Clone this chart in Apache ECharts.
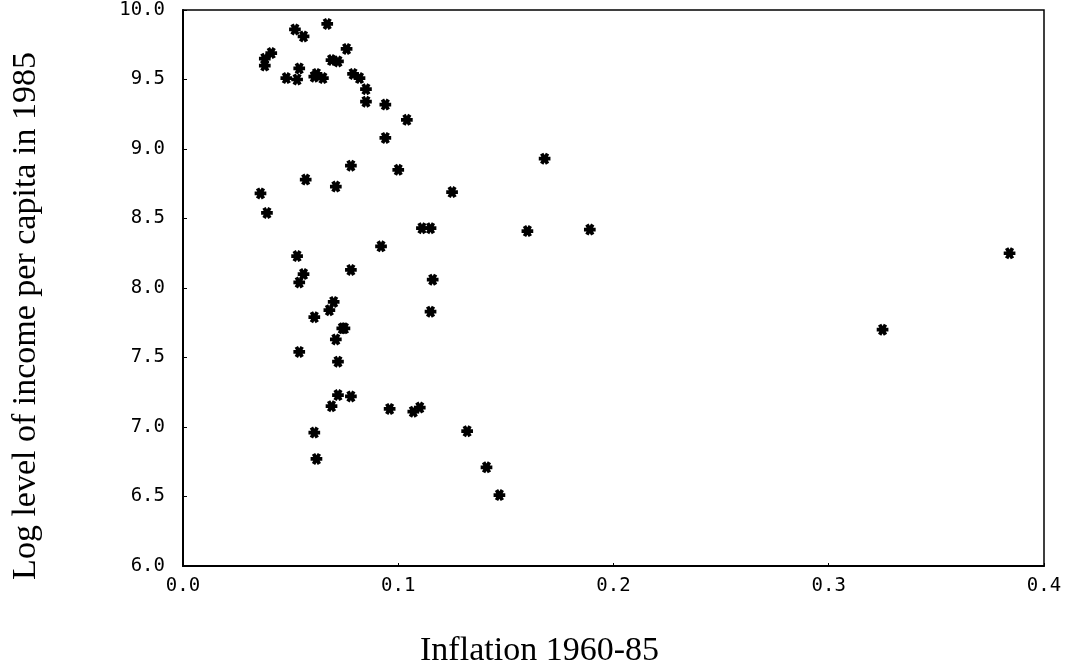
<!DOCTYPE html>
<html>
<head>
<meta charset="utf-8">
<script src="https://cdn.jsdelivr.net/npm/echarts@6/dist/echarts.min.js"></script>
<style>
  html, body { margin: 0; padding: 0; background: #fff; }
  #chart { width: 1071px; height: 669px; }
</style>
</head>
<body>
<div id="chart"></div>
<script>
// inflation 1960-85 (x) and log income per capita 1985 (y)
const inflation = [
  0.052, 0.056, 0.067, 0.041, 0.038, 0.038, 0.076, 0.069, 0.072, 0.054,
  0.048, 0.053, 0.062, 0.061, 0.065, 0.079, 0.082, 0.085, 0.085, 0.094,
  0.104, 0.094, 0.078, 0.100, 0.057, 0.071, 0.036, 0.125, 0.039, 0.111,
  0.115, 0.092, 0.053, 0.056, 0.078, 0.054, 0.116, 0.070, 0.068, 0.061,
  0.115, 0.074, 0.075, 0.071, 0.054, 0.072, 0.072, 0.078, 0.069, 0.096,
  0.107, 0.110, 0.132, 0.061, 0.062, 0.141, 0.147, 0.168, 0.160, 0.189,
  0.384, 0.325
]
const logIncome = [
  9.86, 9.81, 9.90, 9.69, 9.65, 9.60, 9.72, 9.64, 9.63, 9.58,
  9.51, 9.50, 9.54, 9.52, 9.51, 9.54, 9.51, 9.43, 9.34, 9.32,
  9.21, 9.08, 8.88, 8.85, 8.78, 8.73, 8.68, 8.69, 8.54, 8.43,
  8.43, 8.30, 8.23, 8.10, 8.13, 8.04, 8.06, 7.90, 7.84, 7.79,
  7.83, 7.71, 7.71, 7.63, 7.54, 7.47, 7.23, 7.22, 7.15, 7.13,
  7.11, 7.14, 6.97, 6.96, 6.77, 6.71, 6.51, 8.93, 8.41, 8.42,
  8.25, 7.70
]

const xTitle = 'Inflation 1960-85'
const yTitle = 'Log level of income per capita in 1985'

// six-armed asterisk marker
const star = 'path://M-5,-1.6L5,-1.6L5,1.6L-5,1.6Z' +
  'M-3.89,-3.53L-1.11,-5.13L3.89,3.53L1.11,5.13Z' +
  'M1.11,-5.13L3.89,-3.53L-1.11,5.13L-3.89,3.53Z'

const tickFont = { fontFamily: 'DejaVu Sans Mono', fontSize: 19, color: '#000' }
const titleFont = { fontFamily: 'Liberation Serif', fontSize: 34, color: '#000' }

const chart = echarts.init(document.getElementById('chart'))

chart.setOption({
  animation: false,
  grid: {
    left: 183, right: 27, top: 10, bottom: 103,
    outerBoundsMode: 'none',
    show: true, borderColor: '#000', borderWidth: 1.5
  },
  xAxis: {
    type: 'value',
    min: 0, max: 0.4, interval: 0.1,
    name: xTitle,
    nameLocation: 'middle',
    nameGap: 68,
    nameTextStyle: { ...titleFont, padding: [0, 148, 0, 0] },
    axisLine: { lineStyle: { color: '#000', width: 2 } },
    axisTick: { inside: true, length: 3, lineStyle: { color: '#000' } },
    axisLabel: { ...tickFont, margin: 11, formatter: v => v.toFixed(1) },
    splitLine: { show: false }
  },
  yAxis: {
    type: 'value',
    min: 6, max: 10, interval: 0.5,
    name: yTitle,
    nameLocation: 'middle',
    nameGap: 140,
    nameTextStyle: { ...titleFont, padding: [0, 56, 0, 0] },
    axisLine: { show: true, lineStyle: { color: '#000', width: 2 } },
    axisTick: { show: true, inside: true, length: 4, lineStyle: { color: '#000' } },
    axisLabel: { ...tickFont, margin: 18, formatter: v => v.toFixed(1) },
    splitLine: { show: false }
  },
  series: [{
    type: 'scatter',
    symbol: star,
    symbolSize: 12,
    symbolKeepAspect: true,
    itemStyle: { color: '#000', opacity: 1 },
    data: inflation.map((x, i) => [x, logIncome[i]])
  }]
})
</script>
</body>
</html>
